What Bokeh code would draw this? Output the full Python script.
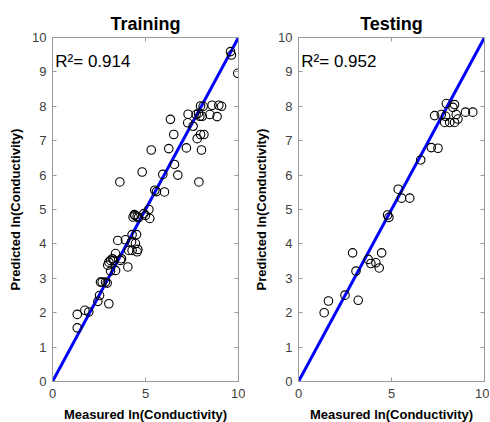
from bokeh.plotting import figure
from bokeh.layouts import row
from bokeh.models import LinearAxis, FixedTicker, Range1d, CustomLabelingPolicy
from bokeh.core.properties import value
from bokeh.embed import file_html
from bokeh.resources import INLINE

# ---- data ----
train_measured = [9.57, 9.62, 9.96, 7.96, 8.10, 8.58, 8.94, 9.09, 7.29, 7.72,
                  7.92, 8.05, 8.46, 8.85, 7.85, 6.34, 7.27, 7.56, 6.52, 7.78,
                  7.96, 8.14, 5.31, 6.25, 7.20, 8.01, 4.82, 5.93, 6.74, 6.56,
                  3.62, 7.87, 5.50, 5.59, 6.02, 5.18, 5.23, 5.00, 4.43, 4.55,
                  4.33, 4.62, 4.91, 3.51, 3.92, 4.28, 4.52, 4.25, 4.46, 4.10,
                  4.28, 4.55, 4.59, 3.39, 3.71, 3.12, 3.03, 3.30, 3.66, 2.97,
                  4.05, 3.39, 3.12, 2.67, 2.85, 2.58, 2.94, 2.53, 2.44, 3.03,
                  1.95, 1.74, 1.33, 1.33, 4.40, 3.22]
train_predicted = [9.59, 9.49, 8.96, 8.01, 8.00, 8.03, 8.03, 8.00, 7.77, 7.76,
                   7.71, 7.71, 7.76, 7.70, 7.80, 7.62, 7.52, 7.42, 7.18, 7.06,
                   7.18, 7.18, 6.73, 6.77, 6.79, 6.73, 6.09, 6.02, 6.00, 6.31,
                   5.80, 5.80, 5.56, 5.52, 5.51, 5.00, 4.74, 4.83, 4.83, 4.80,
                   4.78, 4.76, 4.88, 4.10, 4.12, 4.27, 4.27, 4.06, 4.01, 3.81,
                   3.81, 3.77, 3.84, 3.72, 3.57, 3.52, 3.47, 3.52, 3.52, 3.38,
                   3.33, 3.23, 3.21, 2.89, 2.89, 2.89, 2.86, 2.50, 2.33, 2.26,
                   2.02, 2.07, 1.95, 1.56, 4.85, 3.57]

test_measured = [7.95, 8.39, 8.30, 7.32, 7.68, 7.91, 8.48, 7.86, 8.13, 8.39,
                 8.57, 8.98, 9.37, 7.14, 7.50, 6.57, 5.36, 5.54, 5.98, 4.79,
                 4.86, 2.91, 4.47, 3.75, 3.89, 4.16, 4.34, 3.09, 2.50, 1.61,
                 1.38, 3.21]
test_predicted = [8.08, 8.05, 7.97, 7.73, 7.76, 7.71, 7.76, 7.53, 7.53, 7.53,
                  7.63, 7.83, 7.83, 6.80, 6.78, 6.44, 5.59, 5.33, 5.33, 4.84,
                  4.77, 3.74, 3.74, 3.55, 3.43, 3.45, 3.30, 3.21, 2.51, 2.34,
                  2.00, 2.36]

ideal_x = [0, 10]
ideal_y = [0, 10]

titles = ["Training", "Testing"]
r2_labels = ["R\u00b2= 0.914", "R\u00b2= 0.952"]
x_label = "Measured ln(Conductivity)"
y_label = "Predicted ln(Conductivity)"
x_ticks = [0, 5, 10]
y_ticks = [0, 1, 2, 3, 4, 5, 6, 7, 8, 9, 10]

FONT = "Liberation Sans"
AXIS_GRAY = "#9a9a9a"
TICK_TEXT = "#404040"

NO_LABELS = """
for (const i of indices) {
    indices.unset(i)
}
return indices
"""


def make_panel(title, mx, my, r2, left, right):
    p = figure(frame_width=186, frame_height=344,
               min_border_left=left, min_border_right=right,
               min_border_top=37, min_border_bottom=41,
               output_backend="svg", toolbar_location=None,
               x_range=Range1d(0, 10), y_range=Range1d(0, 10))
    p.title.text = title
    p.title.align = "center"
    p.title.text_font = FONT
    p.title.text_font_size = "18px"
    p.title.text_font_style = "bold"
    p.title.text_color = "black"
    p.title.standoff = 0
    p.xgrid.visible = False
    p.ygrid.visible = False
    p.outline_line_color = AXIS_GRAY
    p.outline_line_width = 1

    p.xaxis.ticker = FixedTicker(ticks=x_ticks)
    p.yaxis.ticker = FixedTicker(ticks=y_ticks)
    for ax in (p.xaxis[0], p.yaxis[0]):
        ax.axis_line_color = AXIS_GRAY
        ax.major_tick_line_color = AXIS_GRAY
        ax.major_tick_in = 4
        ax.major_tick_out = 0
        ax.minor_tick_line_color = None
        ax.major_label_text_font = FONT
        ax.major_label_text_font_size = "13px"
        ax.major_label_text_color = TICK_TEXT
        ax.axis_label_text_font = FONT
        ax.axis_label_text_font_size = "13px"
        ax.axis_label_text_font_style = "bold"
        ax.axis_label_text_color = "black"
    p.xaxis.axis_label = x_label
    p.yaxis.axis_label = y_label
    p.xaxis.major_label_standoff = 7
    p.xaxis.axis_label_standoff = 6
    p.yaxis.major_label_standoff = 6
    p.yaxis.axis_label_standoff = 6

    # mirrored box ticks (top and right), without labels
    top = LinearAxis(ticker=FixedTicker(ticks=x_ticks))
    right_ax = LinearAxis(ticker=FixedTicker(ticks=y_ticks))
    for ax in (top, right_ax):
        ax.axis_line_color = AXIS_GRAY
        ax.major_tick_line_color = AXIS_GRAY
        ax.major_tick_in = 4
        ax.major_tick_out = 0
        ax.minor_tick_line_color = None
        ax.major_label_policy = CustomLabelingPolicy(code=NO_LABELS)
        ax.major_label_text_font_size = "1px"
        ax.major_label_standoff = 0
    p.add_layout(top, "above")
    p.add_layout(right_ax, "right")

    p.line(ideal_x, ideal_y, line_color="#0000ff", line_width=3)
    p.scatter(mx, my, marker="circle", size=8.5, fill_color=None,
              line_color="black", line_width=1.1)
    p.text(x=[0.15], y=[9.3], text=[r2], text_font=value(FONT),
           text_font_size="17px", text_color="black",
           text_baseline="alphabetic", text_align="left")
    return p


p1 = make_panel(titles[0], train_measured, train_predicted, r2_labels[0], 52, 7)
p2 = make_panel(titles[1], test_measured, test_predicted, r2_labels[1], 53, 5)
layout = row(p1, p2)

open("out.html", "w").write(file_html(layout, INLINE))
